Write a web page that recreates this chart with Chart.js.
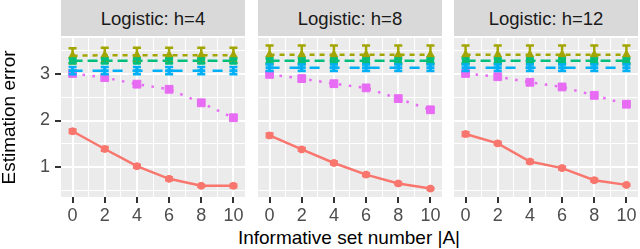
<!DOCTYPE html>
<html lang="en">
<head>
    <meta charset="UTF-8">
    <title>Estimation error by informative set number</title>
    <style>
        body { margin: 0; width: 640px; height: 249px; background: #fff; position: relative; overflow: hidden;
               font-family: "Liberation Sans", Arial, Helvetica, sans-serif; }
        .strip { position: absolute; top: 0; height: 36px; line-height: 38px; background: #d9d9d9;
                 color: #1a1a1a; font-size: 18.5px; text-align: center; }
        canvas { position: absolute; top: 38px; }
        #xtitle { position: absolute; left: 0; width: 698px; top: 227px; text-align: center; font-size: 19px; color: #000; }
    </style>
    <script src="https://cdn.jsdelivr.net/npm/chart.js"></script>
</head>
<body>
    <div id="xtitle">Informative set number |A|</div>

    <script>
        // data
        const setSizes = [0, 2, 4, 6, 8, 10];
        const panelTitles = ['Logistic: h=4', 'Logistic: h=8', 'Logistic: h=12'];
        const yTicks = [1, 2, 3];

        // one inner array per panel (h=4, h=8, h=12)
        const solidMean = [[1.77, 1.39, 1.02, 0.75, 0.60, 0.60], [1.68, 1.38, 1.09, 0.84, 0.65, 0.54], [1.71, 1.51, 1.12, 0.98, 0.72, 0.62]];
        const solidErr = [[0.04, 0.04, 0.03, 0.03, 0.02, 0.03], [0.04, 0.03, 0.03, 0.03, 0.02, 0.02], [0.04, 0.03, 0.03, 0.03, 0.03, 0.02]];
        const shortDashMean = [[3.39, 3.40, 3.40, 3.40, 3.40, 3.40], [3.41, 3.41, 3.41, 3.41, 3.41, 3.41], [3.41, 3.41, 3.41, 3.41, 3.41, 3.41]];
        const shortDashErr = [[0.16, 0.16, 0.16, 0.16, 0.16, 0.16], [0.2, 0.2, 0.2, 0.2, 0.2, 0.2], [0.2, 0.2, 0.2, 0.2, 0.2, 0.2]];
        const midDashMean = [[3.28, 3.28, 3.28, 3.28, 3.28, 3.28], [3.28, 3.28, 3.28, 3.28, 3.28, 3.28], [3.28, 3.28, 3.28, 3.28, 3.28, 3.28]];
        const midDashErr = [[0.05, 0.05, 0.05, 0.05, 0.05, 0.05], [0.05, 0.05, 0.05, 0.05, 0.05, 0.05], [0.05, 0.05, 0.05, 0.05, 0.05, 0.05]];
        const longDashMean = [[3.07, 3.07, 3.07, 3.07, 3.07, 3.07], [3.13, 3.13, 3.13, 3.13, 3.13, 3.13], [3.13, 3.13, 3.13, 3.13, 3.13, 3.13]];
        const longDashErr = [[0.08, 0.08, 0.08, 0.08, 0.08, 0.08], [0.07, 0.07, 0.07, 0.07, 0.07, 0.07], [0.07, 0.07, 0.07, 0.07, 0.07, 0.07]];
        const dottedMean = [[3.01, 2.92, 2.78, 2.67, 2.38, 2.06], [2.99, 2.90, 2.79, 2.70, 2.47, 2.23], [3.01, 2.94, 2.82, 2.72, 2.54, 2.35]];

        const panels = [
            { left: 0, width: 245, yAxis: true },
            { left: 258, width: 184, yAxis: false },
            { left: 454, width: 184, yAxis: false }
        ];
        const stripLeft = [61, 258, 454];

        const panelBg = {
            id: 'panelBg',
            beforeDraw(chart) {
                const a = chart.chartArea;
                chart.ctx.save();
                chart.ctx.fillStyle = '#ebebeb';
                chart.ctx.fillRect(a.left, a.top, a.right - a.left, a.bottom - a.top);
                chart.ctx.restore();
            }
        };

        const errorBars = {
            id: 'errorBars',
            afterDatasetsDraw(chart) {
                const ctx = chart.ctx, xs = chart.scales.x, ys = chart.scales.y;
                chart.data.datasets.forEach(ds => {
                    if (!ds.errors) return;
                    ctx.save();
                    ctx.strokeStyle = ds.borderColor;
                    ctx.lineWidth = 2.5;
                    ds.data.forEach((p, i) => {
                        const e = ds.errors[i];
                        const x = xs.getPixelForValue(p.x);
                        const x0 = xs.getPixelForValue(p.x - 0.25), x1 = xs.getPixelForValue(p.x + 0.25);
                        const yTop = ys.getPixelForValue(p.y + e), yBot = ys.getPixelForValue(p.y - e);
                        ctx.beginPath();
                        ctx.moveTo(x, yTop); ctx.lineTo(x, yBot);
                        ctx.moveTo(x0, yTop); ctx.lineTo(x1, yTop);
                        ctx.moveTo(x0, yBot); ctx.lineTo(x1, yBot);
                        ctx.stroke();
                    });
                    ctx.restore();
                });
            }
        };

        function pts(values) {
            return setSizes.map((x, i) => ({ x: x, y: values[i] }));
        }

        function series(values, errors, color, dash, shape, radius) {
            return {
                data: pts(values),
                errors: errors,
                borderColor: color,
                backgroundColor: color,
                borderWidth: 2.5,
                borderDash: dash,
                pointStyle: shape,
                pointRadius: radius,
                pointBorderWidth: shape === 'cross' ? 3 : 1,
                pointBackgroundColor: color,
                pointBorderColor: color,
                fill: false
            };
        }

        const font = { family: '"Liberation Sans", Arial, Helvetica, sans-serif', size: 18 };

        panels.forEach((p, k) => {
            const strip = document.createElement('div');
            strip.className = 'strip';
            strip.style.left = stripLeft[k] + 'px';
            strip.style.width = '184px';
            strip.textContent = panelTitles[k];
            document.body.appendChild(strip);

            const cv = document.createElement('canvas');
            cv.width = p.width;
            cv.height = 211;
            cv.style.left = p.left + 'px';
            document.body.appendChild(cv);

            new Chart(cv, {
                type: 'line',
                data: {
                    datasets: [
                        series(solidMean[k], solidErr[k], '#F8766D', [], 'circle', 3.5),
                        series(shortDashMean[k], shortDashErr[k], '#A3A500', [5, 5], 'triangle', 4.5),
                        series(midDashMean[k], midDashErr[k], '#00BF7D', [10, 5], 'rect', 4.5),
                        series(longDashMean[k], longDashErr[k], '#00B0F6', [10, 10], 'cross', 4),
                        series(dottedMean[k], null, '#E76BF3', [2.5, 7.5], 'rect', 5.5)
                    ]
                },
                options: {
                    responsive: false,
                    animation: false,
                    devicePixelRatio: 1,
                    layout: { autoPadding: false, padding: 0 },
                    plugins: { legend: { display: false }, tooltip: { enabled: false } },
                    scales: {
                        x: {
                            type: 'linear',
                            min: -0.72,
                            max: 10.72,
                            afterFit: s => { s.height = 52; s.paddingLeft = 0; s.paddingRight = 0; },
                            afterBuildTicks: s => { s.ticks = [0, 1, 2, 3, 4, 5, 6, 7, 8, 9, 10].map(v => ({ value: v })); },
                            border: { display: false },
                            grid: {
                                color: '#ffffff',
                                lineWidth: c => (c.tick && c.tick.value % 2 === 0) ? 2 : 1,
                                tickColor: c => (c.tick && c.tick.value % 2 === 0) ? '#333333' : 'rgba(0,0,0,0)',
                                tickLength: 6,
                                tickWidth: 2
                            },
                            ticks: {
                                autoSkip: false,
                                maxRotation: 0,
                                padding: 2,
                                color: '#4d4d4d',
                                font: font,
                                callback: v => setSizes.includes(v) ? String(v) : ''
                            }
                        },
                        y: {
                            min: 0.36,
                            max: 3.77,
                            afterFit: s => { s.width = p.yAxis ? 61 : 0; s.paddingTop = 0; s.paddingBottom = 0; },
                            afterBuildTicks: s => { s.ticks = [0.5, 1, 1.5, 2, 2.5, 3, 3.5].map(v => ({ value: v })); },
                            border: { display: false },
                            title: {
                                display: p.yAxis,
                                text: 'Estimation error',
                                color: '#000',
                                font: { family: font.family, size: 19, lineHeight: 1 },
                                padding: 0
                            },
                            grid: {
                                color: '#ffffff',
                                lineWidth: c => (c.tick && yTicks.includes(c.tick.value)) ? 2 : 1,
                                tickColor: c => (c.tick && yTicks.includes(c.tick.value)) ? '#333333' : 'rgba(0,0,0,0)',
                                drawTicks: p.yAxis,
                                tickLength: 6,
                                tickWidth: 2
                            },
                            ticks: {
                                display: p.yAxis,
                                autoSkip: false,
                                padding: 5,
                                color: '#4d4d4d',
                                font: font,
                                callback: v => yTicks.includes(v) ? String(v) : ''
                            }
                        }
                    }
                },
                plugins: [panelBg, errorBars]
            });
        });
    </script>
</body>
</html>
